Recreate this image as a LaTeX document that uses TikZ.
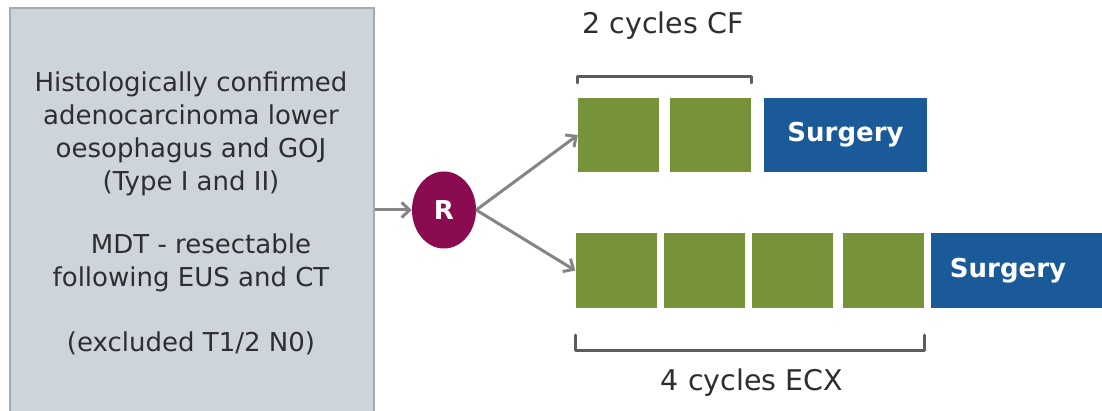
\documentclass[tikz,border=0pt]{standalone}
\usepackage{fontspec}
\setmainfont{DejaVu Sans}
\usetikzlibrary{arrows.meta,shapes.geometric}
\definecolor{boxfill}{HTML}{CDD4DC}
\definecolor{boxline}{HTML}{A3AAB2}
\definecolor{txt}{HTML}{2E2E2E}
\definecolor{cyc}{HTML}{77933A}
\definecolor{surg}{HTML}{1B5A98}
\definecolor{rand}{HTML}{8A0B4F}
\definecolor{arr}{HTML}{858585}
\definecolor{brk}{HTML}{5C5C5C}
\tikzset{
  cycle/.style={fill=cyc, minimum width=81pt, minimum height=74pt, inner sep=0pt},
  surgbox/.style={fill=surg, minimum height=74pt, inner sep=0pt, text=white, font=\fontsize{26}{30}\selectfont\bfseries},
  conn/.style={draw=arr, line width=3pt, -{Straight Barb[length=8pt,width=15pt]}},
  bracket/.style={draw=brk, line width=3.2pt, line cap=round, line join=round},
  lbl/.style={text=txt, font=\fontsize{28.5}{32}\selectfont, inner sep=0pt}
}
\begin{document}
\begin{tikzpicture}[x=1pt,y=-1pt]
\useasboundingbox (0,0) rectangle (1102,411);
\clip (0,0) rectangle (1102,411);
\fill[white] (0,0) rectangle (1102,411);
% patient box
\node[draw=boxline, fill=boxfill, line width=1.2pt, minimum width=364pt, minimum height=430pt, inner sep=0pt] (pt) at (192,223) {};
\node[text=txt, align=center, inner sep=0pt, font=\fontsize{26}{33}\selectfont] (ptxt) at (191,213)
 {Histologically confirmed\\adenocarcinoma lower\\oesophagus and GOJ\\(Type I and II)\\[30pt]
  \hspace*{20pt}MDT - resectable\\following EUS and CT\\[32pt](excluded T1/2 N0)};
% randomisation
\node[ellipse, fill=rand, minimum width=64pt, minimum height=77pt, inner sep=0pt, text=white, font=\fontsize{26}{28}\selectfont\bfseries] (R) at (444,210) {R};
% arm 1
\node[cycle] (a1) at (618.5,135) {};
\node[cycle] (a2) at (710.5,135) {};
\node[surgbox, minimum width=163pt] (s1) at (845.5,135) {Surgery};
% arm 2
\node[cycle, minimum height=75pt] (b1) at (616,270.5) {};
\node[cycle, minimum height=75pt] (b2) at (704.5,270.5) {};
\node[cycle, minimum height=75pt] (b3) at (792,270.5) {};
\node[cycle, minimum height=75pt] (b4) at (883.5,270.5) {};
\node[surgbox, minimum width=179pt, minimum height=75pt] (s2) at (1020.5,270.5) {Surgery\hspace*{25pt}};
% connectors
\draw[conn] (pt.east |- R.west) -- (R.west);
\draw[conn] (R.east) -- (a1.west);
\draw[conn] (R.east) -- (b1.west);
% brackets
\draw[bracket] ([yshift=15pt]a1.north west) -- ([yshift=21pt]a1.north west) -- ([yshift=21pt]a2.north east) -- ([yshift=15pt]a2.north east);
\draw[bracket] ([yshift=-27pt]b1.south west) -- ([yshift=-42pt]b1.south west) -- ([yshift=-42pt]b4.south east) -- ([yshift=-27pt]b4.south east);
% labels
\node[lbl] (l1) at (663,26) {2 cycles CF};
\node[lbl] (l2) at (752,383) {4 cycles ECX};
\end{tikzpicture}
\end{document}
